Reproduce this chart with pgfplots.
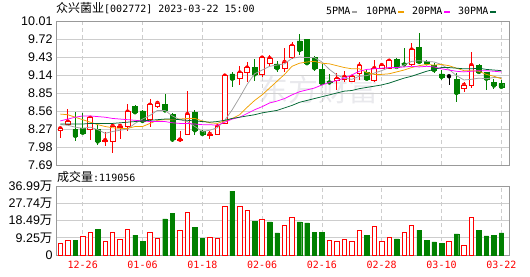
\documentclass[border=0pt]{standalone}
\usepackage{fontspec}
\usepackage{pgfplots}
\usepackage{pgfplotstable}
\pgfplotsset{compat=1.18}
\setmainfont{Liberation Sans}
\newfontfamily\cjk{Noto Sans CJK SC}
\newfontfamily\mono{DejaVu Sans Mono}
\definecolor{upred}{RGB}{255,0,0}
\definecolor{dngreen}{RGB}{0,128,0}
\definecolor{mafive}{RGB}{160,160,160}
\definecolor{maten}{RGB}{240,160,0}
\definecolor{matwenty}{RGB}{255,0,255}
\definecolor{mathirty}{RGB}{0,102,51}
\definecolor{framec}{RGB}{153,153,153}
\definecolor{gridc}{RGB}{205,205,205}
\definecolor{wmark}{RGB}{233,233,237}

\pgfplotstableread{
x O H L C
0 8.24 8.30 8.12 8.28
1 8.35 8.59 8.34 8.39
4 8.27 8.47 8.10 8.45
6 8.07 8.22 7.99 8.09
7 8.07 8.33 7.89 8.32
8 8.29 8.33 8.11 8.32
9 8.32 8.67 8.24 8.55
12 8.42 8.75 8.31 8.66
13 8.63 8.70 8.61 8.69
16 8.08 8.24 8.06 8.10
17 8.19 8.88 8.17 8.51
20 8.17 8.23 8.11 8.19
21 8.19 8.35 8.18 8.31
22 8.36 9.14 8.35 9.13
24 9.08 9.28 8.98 9.18
25 9.18 9.35 9.03 9.26
27 9.15 9.43 9.10 9.42
28 9.32 9.47 9.28 9.41
30 9.25 9.57 9.19 9.35
31 9.42 9.67 9.40 9.61
37 9.06 9.17 8.90 9.08
38 9.07 9.21 9.03 9.11
39 9.04 9.14 9.02 9.11
40 9.17 9.35 9.06 9.29
42 9.06 9.38 9.03 9.25
43 9.25 9.32 9.23 9.30
44 9.25 9.38 9.24 9.37
47 9.31 9.66 9.29 9.55
54 8.93 9.02 8.87 8.98
55 8.98 9.51 8.93 9.30
}\upc

\pgfplotstableread{
x O H L C
2 8.26 8.54 8.08 8.16
3 8.29 8.52 8.20 8.21
5 8.26 8.33 8.01 8.07
10 8.64 8.66 8.52 8.54
11 8.56 8.58 8.38 8.40
14 8.67 8.83 8.55 8.57
15 8.51 8.53 8.06 8.10
18 8.54 8.58 8.18 8.25
19 8.24 8.26 8.17 8.19
23 9.16 9.19 8.95 9.08
26 9.26 9.39 9.05 9.15
29 9.32 9.37 9.19 9.25
32 9.69 9.80 9.46 9.54
33 9.71 9.72 9.32 9.33
34 9.42 9.44 9.21 9.25
35 9.23 9.31 9.00 9.01
36 9.04 9.15 9.00 9.02
41 9.18 9.22 9.06 9.08
45 9.39 9.41 9.25 9.27
46 9.33 9.57 9.29 9.31
48 9.59 9.81 9.33 9.35
49 9.36 9.38 9.30 9.33
50 9.30 9.33 9.17 9.22
51 9.16 9.22 9.06 9.11
53 9.07 9.17 8.71 8.85
56 9.30 9.32 9.15 9.19
57 9.18 9.19 8.90 9.08
58 9.02 9.07 8.91 8.97
59 9.00 9.06 8.93 8.95
}\dnc

\pgfplotstableread{
x O H L C
52 9.12 9.13 8.98 9.12
}\dojic

\pgfplotstableread{
x m5 m10 m20 m30
0 8.34 8.51 8.40 8.35
1 8.33 8.50 8.43 8.35
2 8.30 8.46 8.46 8.35
3 8.28 8.42 8.48 8.35
4 8.30 8.38 8.48 8.36
5 8.26 8.34 8.47 8.36
6 8.20 8.31 8.46 8.36
7 8.23 8.29 8.44 8.36
8 8.25 8.28 8.43 8.37
9 8.27 8.28 8.42 8.38
10 8.36 8.31 8.41 8.39
11 8.43 8.31 8.40 8.40
12 8.49 8.36 8.39 8.41
13 8.57 8.41 8.39 8.42
14 8.57 8.42 8.39 8.43
15 8.48 8.42 8.37 8.43
16 8.42 8.43 8.36 8.42
17 8.39 8.44 8.36 8.41
18 8.31 8.44 8.35 8.40
19 8.23 8.40 8.34 8.39
20 8.25 8.37 8.34 8.38
21 8.29 8.36 8.33 8.39
22 8.41 8.40 8.38 8.41
23 8.58 8.44 8.43 8.44
24 8.78 8.50 8.46 8.46
25 8.99 8.62 8.52 8.48
26 9.16 8.73 8.58 8.50
27 9.22 8.82 8.63 8.53
28 9.28 8.93 8.69 8.55
29 9.30 9.04 8.72 8.57
30 9.32 9.15 8.76 8.61
31 9.41 9.28 8.82 8.65
32 9.43 9.33 8.87 8.70
33 9.42 9.35 8.90 8.73
34 9.42 9.36 8.93 8.76
35 9.35 9.33 8.98 8.79
36 9.23 9.32 9.02 8.82
37 9.14 9.29 9.05 8.85
38 9.09 9.26 9.09 8.88
39 9.07 9.24 9.14 8.89
40 9.12 9.24 9.20 8.92
41 9.13 9.18 9.23 8.94
42 9.17 9.15 9.24 8.96
43 9.21 9.15 9.25 8.98
44 9.26 9.16 9.26 9.01
45 9.25 9.19 9.26 9.05
46 9.30 9.22 9.27 9.09
47 9.36 9.26 9.28 9.12
48 9.37 9.29 9.27 9.16
49 9.36 9.31 9.28 9.20
50 9.35 9.30 9.27 9.23
51 9.31 9.31 9.24 9.26
52 9.23 9.29 9.22 9.26
53 9.13 9.25 9.20 9.25
54 9.06 9.21 9.19 9.24
55 9.07 9.21 9.20 9.24
56 9.09 9.20 9.21 9.25
57 9.08 9.15 9.21 9.23
58 9.10 9.12 9.20 9.22
59 9.10 9.08 9.19 9.21
}\mas

\pgfplotstableread{
x v
0 6.4
1 7.9
3 10.0
4 12.3
6 7.5
7 12.3
8 8.4
9 13.8
12 12.3
13 8.9
16 13.2
17 22.9
20 9.5
21 8.9
22 26.1
24 26.1
25 23.9
27 19.1
30 15.9
31 20.2
36 7.9
37 7.3
38 8.4
39 7.3
40 13.2
42 15.4
43 7.5
44 9.5
46 12.3
47 15.9
52 7.5
54 5.2
55 20.2
}\volr

\pgfplotstableread{
x v
2 8.0
5 13.9
10 10.7
11 7.5
14 19.3
15 22.5
18 15.0
19 9.1
23 34.3
26 18.2
28 17.7
29 11.8
32 17.7
33 17.2
34 12.3
35 12.3
41 10.7
45 8.6
48 13.4
49 8.0
50 7.0
51 6.4
53 11.3
56 13.4
57 10.2
58 10.7
59 11.9
}\volg

\begin{document}
\begin{tikzpicture}[x=1pt,y=1pt]
\path[use as bounding box] (0,0) rectangle (530,276);
\pgfplotsset{
  kbase/.style={scale only axis, width=453pt, xmin=-0.575, xmax=60.03,
    anchor=south west, enlargelimits=false},
  kprice/.style={kbase, height=144pt, at={(56pt,111pt)}, ymin=7.69, ymax=10.01},
  kvol/.style={kbase, height=69pt, at={(56pt,21pt)}, ymin=0, ymax=36.99},
  khidden/.style={axis lines=none, ticks=none},
}
% watermark
\node[text=wmark, font=\cjk\fontsize{30}{30}\selectfont, anchor=center] at (318,186) {东方财富};

% title texts
\node[anchor=base west, inner sep=0pt] at (56,263)
  {{\cjk\fontsize{12}{14}\selectfont 众兴菌业}{\mono\fontsize{10}{12}\selectfont [002772] 2023-03-22 15:00}};
\node[anchor=base west, inner sep=0pt] at (57,94.5)
  {{\cjk\fontsize{12}{14}\selectfont 成交量}{\mono\fontsize{10}{12}\selectfont :119056}};

% price background and wicks
\begin{axis}[kprice,
  axis line style={draw=framec, line width=0.9pt},
  xtick={3,11,19,27,35,43,51,59}, xticklabels={},
  ytick={7.69,7.98,8.27,8.56,8.85,9.14,9.43,9.72,10.01},
  yticklabels={7.69,7.98,8.27,8.56,8.85,9.14,9.43,9.72,10.01},
  major tick length=0pt,
  xmajorgrids, ymajorgrids,
  x grid style={draw=gridc, dash pattern=on 4pt off 3pt, line width=0.8pt},
  y grid style={draw=gridc, line width=0.8pt},
  yticklabel style={font=\fontsize{12.5}{14}\selectfont, text=black},
]
\addplot[upred, only marks, mark=none,
  error bars/.cd, y dir=both, y explicit, error mark=none,
  error bar style={upred, line width=0.75pt}]
  table[x=x, y=C, y error plus expr=\thisrow{H}-\thisrow{C}, y error minus expr=\thisrow{C}-\thisrow{L}] {\upc};
\addplot[dngreen, only marks, mark=none,
  error bars/.cd, y dir=both, y explicit, error mark=none,
  error bar style={dngreen, line width=0.75pt}]
  table[x=x, y=C, y error plus expr=\thisrow{H}-\thisrow{C}, y error minus expr=\thisrow{C}-\thisrow{L}] {\dnc};
\end{axis}

% red bodies
\begin{axis}[kprice, khidden, ybar stacked, bar width=0.64]
\addplot[draw=none, fill=none] table[x=x, y=O] {\upc};
\addplot[draw=upred, fill=white, line width=0.75pt] table[x=x, y expr=\thisrow{C}-\thisrow{O}] {\upc};
\end{axis}

% green bodies
\begin{axis}[kprice, khidden, ybar stacked, bar width=0.64]
\addplot[draw=none, fill=none] table[x=x, y=C] {\dnc};
\addplot[draw=dngreen, fill=dngreen, line width=0.4pt] table[x=x, y expr=\thisrow{O}-\thisrow{C}] {\dnc};
\end{axis}

% moving averages, doji, legend
\begin{axis}[kprice, khidden,
  legend columns=4, legend plot pos=right,
  legend style={draw=none, fill=none, at={(1,1)}, anchor=south east,
    xshift=-12pt, yshift=4pt, inner sep=0pt,
    font=\mono\fontsize{10}{12}\selectfont,
    nodes={inner sep=0.4pt},
    /tikz/every even column/.append style={column sep=7pt}},
  legend image code/.code={\draw[#1, line width=2.6pt] (0pt,0pt) -- (5.5pt,0pt);},
]
\addplot[mafive, line width=0.75pt] table[x=x, y=m5] {\mas};
\addlegendentry{5PMA}
\addplot[maten, line width=0.75pt] table[x=x, y=m10] {\mas};
\addlegendentry{10PMA}
\addplot[matwenty, line width=0.75pt] table[x=x, y=m20] {\mas};
\addlegendentry{20PMA}
\addplot[mathirty, line width=0.75pt] table[x=x, y=m30] {\mas};
\addlegendentry{30PMA}
\addplot[black, only marks, mark=none, forget plot,
  error bars/.cd, x dir=both, x fixed=0.32, y dir=both, y explicit, error mark=none,
  error bar style={black, line width=0.75pt}]
  table[x=x, y=C, y error plus expr=\thisrow{H}-\thisrow{C}, y error minus expr=\thisrow{C}-\thisrow{L}] {\dojic};
\end{axis}

% volume
\begin{axis}[kvol,
  axis line style={draw=framec, line width=0.9pt},
  xtick={3,11,19,27,35,43,51,59},
  xticklabels={12-26,01-06,01-18,02-06,02-16,02-28,03-10,03-22},
  xticklabel style={font=\mono\fontsize{10}{12}\selectfont, text=upred, yshift=-3pt},
  ytick={0,9.25,18.49,27.74,36.99},
  yticklabels={0,9.25{\cjk 万},18.49{\cjk 万},27.74{\cjk 万},36.99{\cjk 万}},
  yticklabel style={font=\fontsize{12.5}{14}\selectfont, text=black},
  major tick length=0pt,
  xmajorgrids, ymajorgrids,
  x grid style={draw=gridc, dash pattern=on 4pt off 3pt, line width=0.8pt},
  y grid style={draw=gridc, line width=0.8pt},
  ybar, bar width=0.6,
]
\addplot[draw=upred, fill=white, line width=0.75pt, bar shift=0pt] table[x=x, y=v] {\volr};
\addplot[draw=dngreen, fill=dngreen, line width=0.4pt, bar shift=0pt] table[x=x, y=v] {\volg};
\end{axis}
\end{tikzpicture}
\end{document}
